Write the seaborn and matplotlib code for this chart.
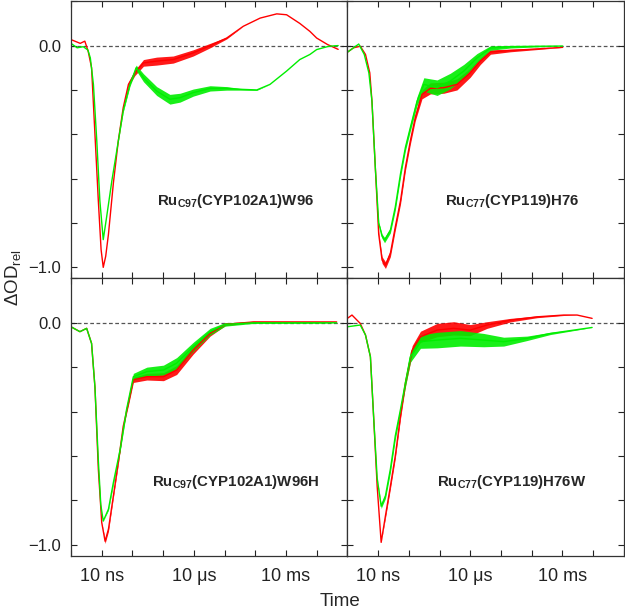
import matplotlib
matplotlib.use('Agg')
import matplotlib.pyplot as plt
import numpy as np
import seaborn as sns
from matplotlib.ticker import FixedLocator, FixedFormatter

sns.set_theme(style='ticks')
plt.rcParams['font.family'] = ['Liberation Sans', 'DejaVu Sans']
plt.rcParams['mathtext.fontset'] = 'custom'
plt.rcParams['mathtext.rm'] = 'Liberation Sans'
plt.rcParams['mathtext.bf'] = 'Liberation Sans:bold'

# log10(time / s), relative OD change, and noise half-width
# panel 1: Ru_C97(CYP102A1)W96
tl_red_t = [-9.0, -8.7, -8.55, -8.44, -8.33, -8.22, -8.11, -8.02, -7.95, -7.87, -7.78, -7.62, -7.46, -7.30,
            -7.13, -6.92, -6.64, -6.21, -5.67, -5.02, -4.47, -3.93, -3.39, -2.84, -2.30, -1.98, -1.55, -1.22,
            -1.0, -0.65, -0.30]
tl_red_v = [0.027, 0.01, 0.02, -0.026, -0.10, -0.40, -0.70, -0.92, -1.0, -0.95, -0.85, -0.62, -0.43, -0.28,
            -0.175, -0.123, -0.078, -0.07, -0.063, -0.033, 0.0, 0.034, 0.087, 0.124, 0.143, 0.139, 0.10, 0.064,
            0.034, 0.005, -0.017]
tl_red_n = [0, 0, 0, 0, 0, 0, 0, 0, 0, 0, 0, 0, 0, 0.005,
            0.008, 0.012, 0.015, 0.018, 0.016, 0.014, 0.01, 0.004, 0, 0, 0, 0, 0, 0,
            0, 0, 0]
tl_grn_t = [-9.0, -8.8, -8.6, -8.45, -8.37, -8.27, -8.16, -8.06, -7.95, -7.84, -7.67, -7.51, -7.30, -7.08,
            -6.88, -6.64, -6.21, -5.78, -5.45, -5.02, -4.47, -3.93, -3.50, -2.95, -2.52, -1.98, -1.55, -1.22,
            -1.0, -0.6, -0.30]
tl_grn_v = [0.01, -0.01, -0.005, -0.02, -0.056, -0.175, -0.43, -0.70, -0.875, -0.773, -0.61, -0.474, -0.295,
            -0.175, -0.10, -0.145, -0.205, -0.242, -0.235, -0.212, -0.193, -0.193, -0.197, -0.20, -0.175, -0.115,
            -0.063, -0.04, -0.018, -0.003, 0.0]
tl_grn_n = [0, 0, 0, 0, 0, 0, 0, 0, 0, 0, 0, 0, 0.005, 0.008,
            0.012, 0.018, 0.02, 0.022, 0.02, 0.016, 0.012, 0.008, 0.004, 0.002, 0, 0, 0, 0,
            0, 0, 0]

# panel 2: Ru_C77(CYP119)H76
tr_red_t = [-9.0, -8.8, -8.58, -8.41, -8.27, -8.20, -8.09, -7.98, -7.87, -7.76, -7.60, -7.44, -7.27, -7.11,
            -6.95, -6.79, -6.57, -6.30, -5.86, -5.43, -5.0, -4.67, -4.34, -3.69, -2.82, -1.99]
tr_red_v = [-0.03, -0.01, -0.003, -0.04, -0.123, -0.25, -0.55, -0.85, -0.967, -0.99, -0.937, -0.818, -0.70,
            -0.549, -0.43, -0.325, -0.22, -0.193, -0.19, -0.175, -0.123, -0.07, -0.029, -0.022, -0.015, -0.008]
tr_red_n = [0, 0, 0, 0, 0, 0, 0, 0.01, 0.015, 0.015, 0.015, 0.015, 0.015, 0.015,
            0.015, 0.015, 0.02, 0.025, 0.025, 0.025, 0.02, 0.015, 0.01, 0.006, 0.003, 0]
tr_grn_t = [-9.0, -8.8, -8.63, -8.45, -8.30, -8.20, -8.09, -7.98, -7.87, -7.79, -7.60, -7.44, -7.27, -7.11,
            -6.95, -6.73, -6.51, -6.08, -5.65, -5.21, -4.78, -4.34, -3.69, -2.82, -1.99]
tr_grn_v = [-0.03, -0.01, 0.007, -0.04, -0.123, -0.25, -0.55, -0.80, -0.86, -0.877, -0.833, -0.728, -0.578,
            -0.459, -0.37, -0.25, -0.175, -0.19, -0.16, -0.115, -0.056, -0.011, -0.005, -0.003, -0.002]
tr_grn_n = [0, 0, 0, 0, 0, 0, 0, 0.005, 0.01, 0.012, 0.012, 0.015, 0.015, 0.015,
            0.015, 0.02, 0.03, 0.035, 0.035, 0.03, 0.02, 0.01, 0.006, 0.003, 0]

# panel 3: Ru_C97(CYP102A1)W96H
bl_red_t = [-9.0, -8.71, -8.49, -8.33, -8.22, -8.11, -8.0, -7.89, -7.78, -7.62, -7.46, -7.30, -7.13, -6.97,
            -6.53, -5.99, -5.56, -5.02, -4.47, -3.98, -3.06, -1.0, -0.35]
bl_red_v = [-0.018, -0.04, -0.025, -0.093, -0.29, -0.66, -0.90, -0.985, -0.93, -0.78, -0.63, -0.467, -0.362,
            -0.257, -0.243, -0.243, -0.213, -0.123, -0.048, -0.007, 0.004, 0.004, 0.004]
bl_red_n = [0, 0, 0, 0, 0, 0, 0, 0.01, 0.01, 0.008, 0.008, 0.008, 0.01, 0.012,
            0.015, 0.018, 0.02, 0.018, 0.012, 0.006, 0.003, 0.002, 0]
bl_grn_t = [-9.0, -8.71, -8.49, -8.33, -8.22, -8.11, -8.03, -7.95, -7.78, -7.62, -7.40, -7.19, -6.97, -6.53,
            -5.99, -5.56, -5.02, -4.47, -3.98, -3.06, -1.0, -0.35]
bl_grn_v = [-0.018, -0.04, -0.025, -0.093, -0.29, -0.62, -0.82, -0.894, -0.84, -0.72, -0.572, -0.39, -0.243,
            -0.22, -0.213, -0.182, -0.108, -0.04, -0.007, 0.0, 0.0, 0.0]
bl_grn_n = [0, 0, 0, 0, 0, 0, 0, 0, 0.005, 0.008, 0.008, 0.01, 0.015, 0.02,
            0.022, 0.025, 0.02, 0.015, 0.008, 0.003, 0.002, 0]

# panel 4: Ru_C77(CYP119)H76W
br_red_t = [-9.0, -8.85, -8.58, -8.41, -8.25, -8.14, -8.03, -7.90, -7.76, -7.60, -7.44, -7.27, -7.11, -6.89,
            -6.62, -6.08, -5.54, -5.0, -4.45, -3.69, -2.82, -1.95, -1.52, -1.03]
br_red_v = [0.02, 0.035, -0.003, -0.055, -0.153, -0.437, -0.737, -0.99, -0.87, -0.737, -0.60, -0.42, -0.27,
            -0.123, -0.063, -0.033, -0.025, -0.033, -0.01, 0.012, 0.027, 0.035, 0.035, 0.02]
br_red_n = [0, 0, 0, 0, 0, 0, 0, 0, 0.01, 0.012, 0.012, 0.012, 0.015, 0.02,
            0.025, 0.03, 0.03, 0.025, 0.015, 0.008, 0.004, 0.002, 0, 0]
br_grn_t = [-9.0, -8.58, -8.41, -8.25, -8.14, -8.03, -7.90, -7.76, -7.60, -7.44, -7.27, -7.11, -6.95, -6.62,
            -6.08, -5.32, -4.56, -3.91, -3.15, -2.39, -1.03]
br_grn_v = [-0.018, -0.01, -0.055, -0.153, -0.437, -0.70, -0.827, -0.78, -0.66, -0.51, -0.39, -0.27, -0.153,
            -0.085, -0.078, -0.07, -0.078, -0.085, -0.07, -0.048, -0.021]
br_grn_n = [0, 0, 0, 0, 0, 0, 0.01, 0.012, 0.015, 0.015, 0.015, 0.02, 0.025, 0.03,
            0.035, 0.035, 0.03, 0.02, 0.01, 0.005, 0]

panel_labels = [r'Ru$_{\mathbf{C97}}$(CYP102A1)W96', r'Ru$_{\mathbf{C77}}$(CYP119)H76',
                r'Ru$_{\mathbf{C97}}$(CYP102A1)W96H', r'Ru$_{\mathbf{C77}}$(CYP119)H76W']
x_tick_pos = [1e-9, 1e-8, 1e-7, 1e-6, 1e-5, 1e-4, 1e-3, 1e-2, 1e-1, 1e0]
x_tick_lab = ['', '10 ns', '', '', '10 \u03bcs', '', '', '10 ms', '', '']
y_tick_pos = [-1.0, -0.8, -0.6, -0.4, -0.2, 0.0, 0.2]
y_tick_lab = ['\u22121.0', '', '', '', '', '0.0', '']

panels = [
    (tl_red_t, tl_red_v, tl_red_n, tl_grn_t, tl_grn_v, tl_grn_n),
    (tr_red_t, tr_red_v, tr_red_n, tr_grn_t, tr_grn_v, tr_grn_n),
    (bl_red_t, bl_red_v, bl_red_n, bl_grn_t, bl_grn_v, bl_grn_n),
    (br_red_t, br_red_v, br_red_n, br_grn_t, br_grn_v, br_grn_n),
]

fig, axes = plt.subplots(2, 2, figsize=(6.25, 6.14), dpi=100, sharex=True, sharey=True)
fig.subplots_adjust(left=0.1136, right=0.998, top=0.998, bottom=0.095, wspace=0, hspace=0)

for i, ax in enumerate(axes.flat):
    rt, rv, rn, gt, gv, gn = panels[i]
    for t, v, n, col in [(rt, rv, rn, '#ff0000'), (gt, gv, gn, '#00ee00')]:
        t = 10 ** np.array(t)
        v = np.array(v)
        n = np.array(n)
        ax.fill_between(t, v - n, v + n, color=col, linewidth=0, alpha=0.9)
        sns.lineplot(x=t, y=v, ax=ax, color=col, linewidth=1.0, sort=False, estimator=None)
    ax.axhline(0, color='#555555', linestyle=(0, (3, 2)), linewidth=0.9, zorder=0)
    ax.set_xscale('log')
    ax.set_xlim(1e-9, 1e0)
    ax.set_ylim(-1.05, 0.2)
    ax.xaxis.set_major_locator(FixedLocator(x_tick_pos))
    ax.xaxis.set_major_formatter(FixedFormatter(x_tick_lab))
    ax.xaxis.set_minor_locator(FixedLocator([]))
    ax.yaxis.set_major_locator(FixedLocator(y_tick_pos))
    ax.yaxis.set_major_formatter(FixedFormatter(y_tick_lab))
    ax.tick_params(direction='in', length=4, width=0.8, top=True, right=True, colors='#222222')
    ax.tick_params(axis='x', labelsize=13, pad=9)
    ax.tick_params(axis='y', labelsize=12, pad=7)
    for s in ax.spines.values():
        s.set_color('#333333')
        s.set_linewidth(0.9)
    ax.set_xlabel('')
    ax.set_ylabel('')
    ax.text(10 ** -3.64, -0.70 if i < 2 else -0.72, panel_labels[i], ha='center', va='center',
            fontsize=10.8, fontweight='bold')

fig.text(0.022, 0.548, r'$\Delta$OD$_{\rm rel}$', rotation=90, ha='center', va='center', fontsize=13.5)
fig.text(0.544, 0.021, 'Time', ha='center', va='center', fontsize=13.5)

fig.savefig('out.png', dpi=100)
